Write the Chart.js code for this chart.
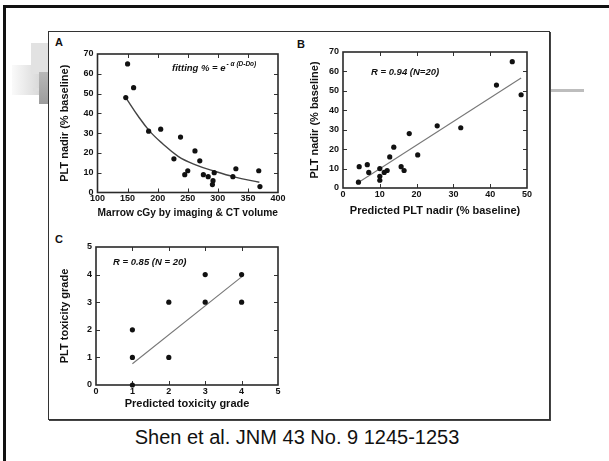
<!DOCTYPE html>
<html>
<head>
<meta charset="utf-8">
<script src="https://cdn.jsdelivr.net/npm/chart.js@4.4.1/dist/chart.umd.min.js"></script>
<style>
  html, body { margin: 0; padding: 0; background: #fff; }
  body { width: 609px; height: 461px; position: relative; overflow: hidden; font-family: "Liberation Sans", Arial, sans-serif; }
  .abs { position: absolute; }
  #frame { left: 3px; top: 5px; width: 700px; height: 600px; border-top: 3px solid #111; border-left: 3px solid #111; }
  #deco1 { left: 31px; top: 43px; width: 17px; height: 31px; background: #e2e2e2; }
  #deco2 { left: 12px; top: 65px; width: 36px; height: 30px; background: linear-gradient(to right, #fafafa, #cfcfcf); }
  #deco3 { left: 39px; top: 72px; width: 9px; height: 32px; background: linear-gradient(to bottom, #b8b8b8, #9c9c9c); }
  #deco4 { left: 33px; top: 88px; width: 15px; height: 3px; background: #dedede; }
  #rule { left: 549px; top: 89px; width: 35px; height: 3px; background: #bdbdbd; }
  #box { left: 48px; top: 31px; width: 500px; height: 387px; background: #fff; border: 1px solid #333; box-shadow: 1px 1px 0 #444; }
  .letter { font-weight: bold; font-size: 11px; color: #111; }
  #caption { left: 0; width: 594px; top: 426px; text-align: center; font-size: 20px; color: #111; }
  canvas { position: absolute; }
</style>
</head>
<body>
<div id="frame" class="abs"></div>
<div id="deco2" class="abs"></div>
<div id="deco1" class="abs"></div>
<div id="deco4" class="abs"></div>
<div id="deco3" class="abs"></div>
<div id="rule" class="abs"></div>
<div id="box" class="abs"></div>
<div class="abs letter" style="left:55px;top:36px">A</div>
<div class="abs letter" style="left:297px;top:38px">B</div>
<div class="abs letter" style="left:55px;top:233px">C</div>
<canvas id="chartA" width="232" height="180" style="left:58px;top:40px"></canvas>
<canvas id="chartB" width="232" height="180" style="left:308px;top:38px"></canvas>
<canvas id="chartC" width="232" height="178" style="left:58px;top:233px"></canvas>
<div id="caption" class="abs">Shen et al. JNM 43 No. 9 1245-1253</div>

<script>
(function () {
  'use strict';

  // Panel A: PLT nadir vs marrow dose
  var A_DOSE  = [150, 160, 147, 185, 205, 238, 227, 262, 270, 245, 250, 276, 284, 294, 292, 291, 325, 330, 368, 370];
  var A_NADIR = [65, 53, 48, 31, 32, 28, 17, 21, 16, 9, 11, 9, 8, 10, 6, 4, 8, 12, 11, 3];
  // fitted curve
  var A_FIT_DOSE  = [147, 168, 187, 207, 234, 262, 295, 327, 369];
  var A_FIT_NADIR = [48, 38.4, 30.9, 25, 18.3, 14.1, 10.7, 7.9, 5.2];

  // Panel B: measured vs predicted PLT nadir
  var B_PRED  = [46, 41.7, 48.4, 25.6, 32, 18, 13.8, 20.3, 12.7, 4.4, 6.6, 7, 10, 10, 10, 11.2, 12, 15.8, 16.6, 4.2];
  var B_NADIR = [65, 53, 48, 32, 31, 28, 21, 17, 16, 11, 12, 8, 10, 6, 4, 8, 9, 11, 9, 3];
  var B_LINE_X = [4.5, 48.4];
  var B_LINE_Y = [3.2, 56.6];

  // Panel C: toxicity grade vs predicted grade
  var C_PRED  = [1, 1, 1, 2, 2, 3, 3, 4, 4];
  var C_GRADE = [2, 1, 0, 3, 1, 4, 3, 4, 3];
  var C_LINE_X = [1, 4];
  var C_LINE_Y = [0.77, 3.92];

  var FONT = '"Liberation Sans", Arial, sans-serif';

  function pts(xs, ys) {
    return xs.map(function (x, i) { return { x: x, y: ys[i] }; });
  }

  // box round the plot area with small ticks pointing inwards on all four sides
  var frameTicks = {
    id: 'frameTicks',
    beforeDatasetsDraw: function (chart) {
      var a = chart.chartArea, ctx = chart.ctx;
      var xs = chart.scales.x, ys = chart.scales.y;
      ctx.save();
      ctx.strokeStyle = '#333';
      ctx.lineWidth = 1;
      xs.ticks.forEach(function (t, i) {
        if (i === 0 || i === xs.ticks.length - 1) return;
        var px = Math.round(xs.getPixelForValue(t.value)) + 0.5;
        ctx.beginPath();
        ctx.moveTo(px, a.bottom); ctx.lineTo(px, a.bottom - 4);
        ctx.moveTo(px, a.top); ctx.lineTo(px, a.top + 4);
        ctx.stroke();
      });
      ys.ticks.forEach(function (t, i) {
        if (i === 0 || i === ys.ticks.length - 1) return;
        var py = Math.round(ys.getPixelForValue(t.value)) + 0.5;
        ctx.beginPath();
        ctx.moveTo(a.left, py); ctx.lineTo(a.left + 4, py);
        ctx.moveTo(a.right, py); ctx.lineTo(a.right - 4, py);
        ctx.stroke();
      });
      ctx.lineWidth = 1.6;
      ctx.strokeStyle = '#2a2a2a';
      ctx.strokeRect(a.left, a.top, a.right - a.left, a.bottom - a.top);
      ctx.restore();
    },
    afterDatasetsDraw: function (chart, args, opts) {
      if (!opts.text) return;
      var a = chart.chartArea, ctx = chart.ctx;
      ctx.save();
      ctx.fillStyle = '#111';
      ctx.textBaseline = 'middle';
      ctx.font = 'italic bold 9.5px ' + FONT;
      var x = a.left + opts.dx, y = a.top + opts.dy;
      ctx.fillText(opts.text, x, y);
      if (opts.sup) {
        var w = ctx.measureText(opts.text).width;
        ctx.font = 'italic bold 6.5px ' + FONT;
        ctx.fillText(opts.sup, x + w + 1, y - 4);
      }
      ctx.restore();
    }
  };

  function makePanel(id, p) {
    var datasets = [{
      type: 'scatter',
      data: pts(p.xs, p.ys),
      pointRadius: 2.6,
      pointBackgroundColor: '#111',
      pointBorderWidth: 0,
      clip: false
    }, {
      type: 'line',
      data: pts(p.lineX, p.lineY),
      borderColor: p.lineColor,
      borderWidth: p.lineWidth,
      pointRadius: 0,
      tension: p.tension || 0,
      fill: false
    }];

    return new Chart(document.getElementById(id), {
      data: { datasets: datasets },
      plugins: [frameTicks],
      options: {
        responsive: false,
        animation: false,
        devicePixelRatio: 1,
        layout: { padding: { top: p.padTop, right: p.padRight, left: 0, bottom: 0 } },
        plugins: {
          legend: { display: false },
          tooltip: { enabled: false },
          frameTicks: { text: p.note, sup: p.sup, dx: p.noteX, dy: p.noteY }
        },
        scales: {
          x: {
            type: 'linear',
            min: p.xMin, max: p.xMax,
            grid: { display: false, drawTicks: false },
            border: { display: false },
            ticks: { stepSize: p.xStep, padding: 1, color: '#111', font: { family: FONT, size: 9, weight: 'bold' }, maxRotation: 0 },
            title: { display: true, text: p.xTitle, color: '#111', padding: 0, font: { family: FONT, size: 11, weight: 'bold' } },
            afterFit: function (s) { s.height = p.xH; }
          },
          y: {
            type: 'linear',
            min: p.yMin, max: p.yMax,
            grid: { display: false, drawTicks: false },
            border: { display: false },
            ticks: { stepSize: p.yStep, padding: 4, color: '#111', font: { family: FONT, size: 9, weight: 'bold' } },
            title: { display: true, text: p.yTitle, color: '#111', padding: 0, font: { family: FONT, size: 11, weight: 'bold' } },
            afterFit: function (s) { s.width = p.yW; }
          }
        }
      }
    });
  }

  makePanel('chartA', {
    xs: A_DOSE, ys: A_NADIR, lineX: A_FIT_DOSE, lineY: A_FIT_NADIR,
    lineColor: '#444', lineWidth: 1.4, tension: 0.4,
    xMin: 100, xMax: 400, xStep: 50, yMin: 0, yMax: 70, yStep: 10,
    xTitle: 'Marrow cGy by imaging & CT volume', yTitle: 'PLT nadir (% baseline)',
    yW: 39.5, xH: 27.5, padTop: 14, padRight: 12,
    note: 'fitting % = e', sup: '- \u03b1 (D-Do)', noteX: 74.5, noteY: 14.5
  });

  makePanel('chartB', {
    xs: B_PRED, ys: B_NADIR, lineX: B_LINE_X, lineY: B_LINE_Y,
    lineColor: '#777', lineWidth: 1.1,
    xMin: 0, xMax: 50, xStep: 10, yMin: 0, yMax: 70, yStep: 10,
    xTitle: 'Predicted PLT nadir (% baseline)', yTitle: 'PLT nadir (% baseline)',
    yW: 35, xH: 30, padTop: 14, padRight: 13,
    note: 'R = 0.94 (N=20)', noteX: 28, noteY: 20.5
  });

  makePanel('chartC', {
    xs: C_PRED, ys: C_GRADE, lineX: C_LINE_X, lineY: C_LINE_Y,
    lineColor: '#777', lineWidth: 1.1,
    xMin: 0, xMax: 5, xStep: 1, yMin: 0, yMax: 5, yStep: 1,
    xTitle: 'Predicted toxicity grade', yTitle: 'PLT toxicity grade',
    yW: 38, xH: 26, padTop: 14, padRight: 12,
    note: 'R = 0.85 (N = 20)', noteX: 17, noteY: 15
  });
})();
</script>
</body>
</html>
